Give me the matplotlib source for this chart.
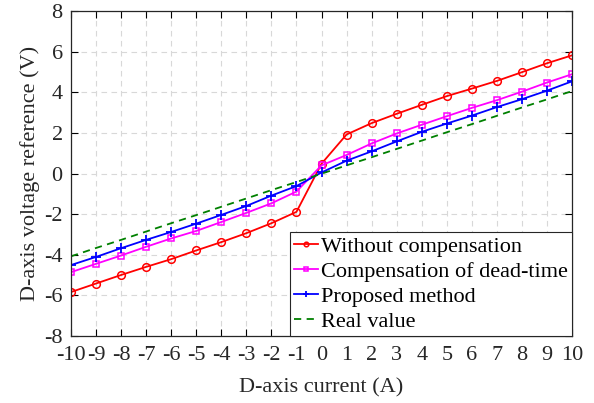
import matplotlib
matplotlib.use("Agg")
import matplotlib.pyplot as plt

plt.rcParams['font.family'] = ['Liberation Serif', 'DejaVu Serif']
plt.rcParams['axes.unicode_minus'] = False

current = [-10, -9, -8, -7, -6, -5, -4, -3, -2, -1, 0, 1, 2, 3, 4, 5, 6, 7, 8, 9, 10]

without_comp = [-5.83, -5.41, -4.99, -4.59, -4.21, -3.78, -3.37, -2.93, -2.44, -1.88,
                0.49, 1.93, 2.49, 2.95, 3.39, 3.82, 4.19, 4.57, 5.00, 5.44, 5.83]
deadtime_comp = [-4.85, -4.44, -4.03, -3.60, -3.19, -2.82, -2.38, -1.93, -1.46, -0.88,
                 0.41, 0.92, 1.49, 1.98, 2.41, 2.83, 3.24, 3.62, 4.04, 4.49, 4.90]
proposed = [-4.50, -4.10, -3.67, -3.26, -2.87, -2.46, -2.03, -1.59, -1.08, -0.61,
            0.06, 0.64, 1.10, 1.59, 2.06, 2.47, 2.86, 3.28, 3.67, 4.09, 4.55]
real_value = [-4.07, -3.66, -3.26, -2.85, -2.44, -2.04, -1.63, -1.22, -0.81, -0.41,
              0.0, 0.41, 0.81, 1.22, 1.63, 2.04, 2.44, 2.85, 3.26, 3.66, 4.07]

labels = ['Without compensation', 'Compensation of dead-time', 'Proposed method', 'Real value']

txt = '#262626'

fig = plt.figure(figsize=(5.94, 4.03), dpi=100)
ax = fig.add_axes([0.1195, 0.166, 0.8435, 0.806])

ax.plot(current, without_comp, color='#ff0000', lw=1.3, marker='o', ms=5.5,
        mfc='none', mew=1.1, label=labels[0])
ax.plot(current, deadtime_comp, color='#ff00ff', lw=1.3, marker='s', ms=4.5,
        mfc='none', mew=1.1, label=labels[1])
ax.plot(current, proposed, color='#0000ff', lw=1.3, marker='+', ms=7,
        mew=1.3, label=labels[2])
ax.plot(current, real_value, color='#008000', lw=1.3, ls=(0, (4, 3)), label=labels[3])

ax.set_xlim(-10, 10)
ax.set_ylim(-8, 8)
ax.set_xticks(range(-10, 11))
ax.set_yticks(range(-8, 9, 2))
ax.tick_params(direction='in', top=True, right=True, labelsize=16, length=5,
               width=0.8, labelcolor=txt)
ax.tick_params(axis='x', pad=7)
ax.tick_params(axis='y', pad=6)
ax.grid(True, color='#d8d8d8', ls=(0, (5, 4)), lw=0.8)
for s in ax.spines.values():
    s.set_linewidth(0.9)
    s.set_color(txt)

ax.set_xlabel('D-axis current (A)', fontsize=16, labelpad=10, color=txt)
ax.set_ylabel('D-axis voltage reference (V)', fontsize=16, labelpad=3, color=txt)

leg = ax.legend(loc='lower right', fontsize=16, frameon=True, fancybox=False,
                edgecolor=txt, framealpha=1, borderpad=0.2, labelspacing=0.2,
                handlelength=1.1, handletextpad=0.1, borderaxespad=0, markerscale=0.6)
leg.get_frame().set_linewidth(0.8)
for t in leg.get_texts():
    t.set_color('black')

fig.savefig('out.png', dpi=100)
